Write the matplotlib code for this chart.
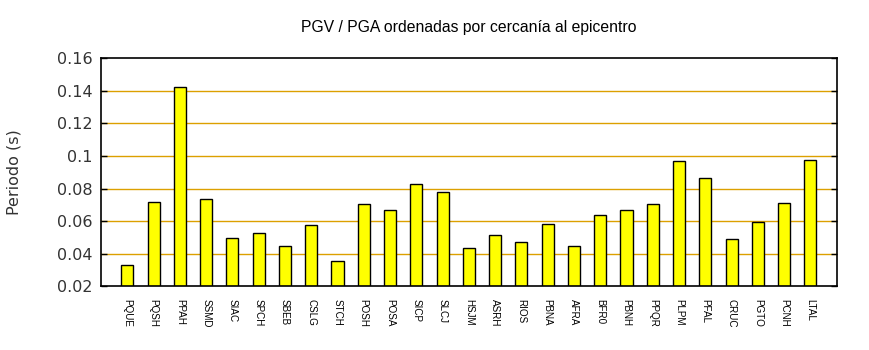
import matplotlib
matplotlib.use("Agg")
import matplotlib.pyplot as plt

stations = ["PQUE", "PQSH", "PPAH", "SSMD", "SIAC", "SPCH", "SBEB", "CSLG", "STCH",
            "POSH", "POSA", "SICP", "SLCJ", "HSJM", "ASRH", "RIOS", "PBNA", "AFRA",
            "BFR0", "PBNH", "PPQR", "PLPM", "PFAL", "CRUC", "PGTO", "PCNH", "LTAL"]
periods = [0.0329, 0.0717, 0.1425, 0.0735, 0.0495, 0.0526, 0.0446, 0.0575, 0.0354,
           0.0705, 0.0668, 0.0828, 0.0778, 0.0434, 0.0514, 0.0471, 0.0582, 0.0446,
           0.0637, 0.0668, 0.0705, 0.0969, 0.0865, 0.0489, 0.0594, 0.0711, 0.0975]
yticks = [0.02, 0.04, 0.06, 0.08, 0.1, 0.12, 0.14, 0.16]
ytick_labels = ["0.02", "0.04", "0.06", "0.08", "0.1", "0.12", "0.14", "0.16"]

fig = plt.figure(figsize=(8.7, 3.5), dpi=100)
ax = fig.add_axes([0.1161, 0.182, 0.8456, 0.6514])

x = list(range(1, len(stations) + 1))
ax.bar(x, periods, width=0.46, bottom=0, color="#ffff00", edgecolor="black",
       linewidth=1.0, zorder=3)

ax.set_xlim(0, len(stations) + 1)
ax.set_ylim(0.02, 0.16)

# horizontal grid in orange, behind the bars
for v in yticks[1:-1]:
    ax.axhline(v, color="#dca000", linewidth=1.0, zorder=1)

ax.set_yticks(yticks)
ax.set_yticklabels(ytick_labels, fontsize=11.5, family="DejaVu Sans", color="#333333")
ax.tick_params(axis="y", direction="in", length=4, width=1, right=True, pad=6)

ax.set_xticks(x)
ax.set_xticklabels(stations, rotation=270, fontsize=7.1, family="Liberation Sans",
                   va="top", ha="center")
ax.tick_params(axis="x", length=0, pad=9)

for s in ax.spines.values():
    s.set_linewidth(1.2)
    s.set_zorder(4)

ax.set_ylabel("Periodo (s)", fontsize=11.5, family="DejaVu Sans", color="#333333")
ax.yaxis.set_label_coords(-0.108, 0.5)

fig.text(0.539, 0.922, "PGV / PGA ordenadas por cercanía al epicentro",
         ha="center", va="center", fontsize=11.3, family="Liberation Sans")

fig.savefig("out.png", dpi=100)
